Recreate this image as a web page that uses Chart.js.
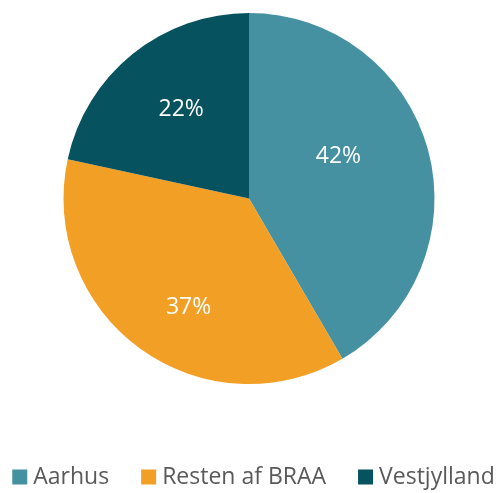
<!DOCTYPE html>
<html>
<head>
<meta charset="utf-8">
<script src="https://cdn.jsdelivr.net/npm/chart.js@4.4.0/dist/chart.umd.min.js"></script>
<style>
    html, body { margin: 0; padding: 0; background: #ffffff; }
    #wrap { width: 501px; height: 493px; }
</style>
</head>
<body>
<div id="wrap"><canvas id="regionPieChart" width="501" height="493"></canvas></div>
<script>
// Data
const regions = ['Aarhus', 'Resten af BRAA', 'Vestjylland'];
const shares = [41.6, 36.8, 21.6];
const shareLabels = ['42%', '37%', '22%'];
const sliceColors = ['#4591A1', '#F29F26', '#07525F'];

const FONT = '"Open Sans", "Noto Sans", sans-serif';

// Percent labels inside the slices (nudged like Excel's best-fit placement)
const labelNudge = [[-18, -13], [5, 19], [2, -2]];
const sliceLabelPlugin = {
    id: 'sliceLabels',
    afterDatasetsDraw(chart) {
        const ctx = chart.ctx;
        const arcs = chart.getDatasetMeta(0).data;
        ctx.save();
        ctx.fillStyle = '#ffffff';
        ctx.font = '23px ' + FONT;
        ctx.textAlign = 'center';
        ctx.textBaseline = 'middle';
        arcs.forEach((arc, i) => {
            const p = arc.getProps(['x', 'y', 'startAngle', 'endAngle', 'outerRadius'], true);
            const mid = (p.startAngle + p.endAngle) / 2;
            const r = p.outerRadius * 0.6;
            ctx.fillText(shareLabels[i],
                p.x + Math.cos(mid) * r + labelNudge[i][0],
                p.y + Math.sin(mid) * r + labelNudge[i][1]);
        });
        ctx.restore();
    }
};

// Legend drawn by hand so the box/text gap matches the original
const bottomLegendPlugin = {
    id: 'bottomLegend',
    afterDraw(chart) {
        const ctx = chart.ctx;
        const box = 15, gap = 6, spacing = 32;
        const y = 477;
        ctx.save();
        ctx.font = '23px ' + FONT;
        const widths = regions.map(t => ctx.measureText(t).width);
        let total = 0;
        widths.forEach(w => { total += box + gap + w; });
        total += spacing * (regions.length - 1);
        let x = (chart.width - total) / 2 + 3;
        ctx.textBaseline = 'middle';
        ctx.textAlign = 'left';
        regions.forEach((t, i) => {
            ctx.fillStyle = sliceColors[i];
            ctx.fillRect(x, y - box / 2, box, box);
            ctx.fillStyle = '#595959';
            ctx.fillText(t, x + box + gap, y);
            x += box + gap + widths[i] + spacing;
        });
        ctx.restore();
    }
};

const ctx = document.getElementById('regionPieChart').getContext('2d');
const regionPieChart = new Chart(ctx, {
    type: 'pie',
    data: {
        labels: regions,
        datasets: [{
            data: shares,
            backgroundColor: sliceColors,
            borderWidth: 0
        }]
    },
    options: {
        responsive: false,
        animation: false,
        layout: { padding: { top: 13, bottom: 109, left: 0, right: 3 } },
        plugins: {
            legend: { display: false },
            tooltip: { enabled: false }
        }
    },
    plugins: [sliceLabelPlugin, bottomLegendPlugin]
});
</script>
</body>
</html>
